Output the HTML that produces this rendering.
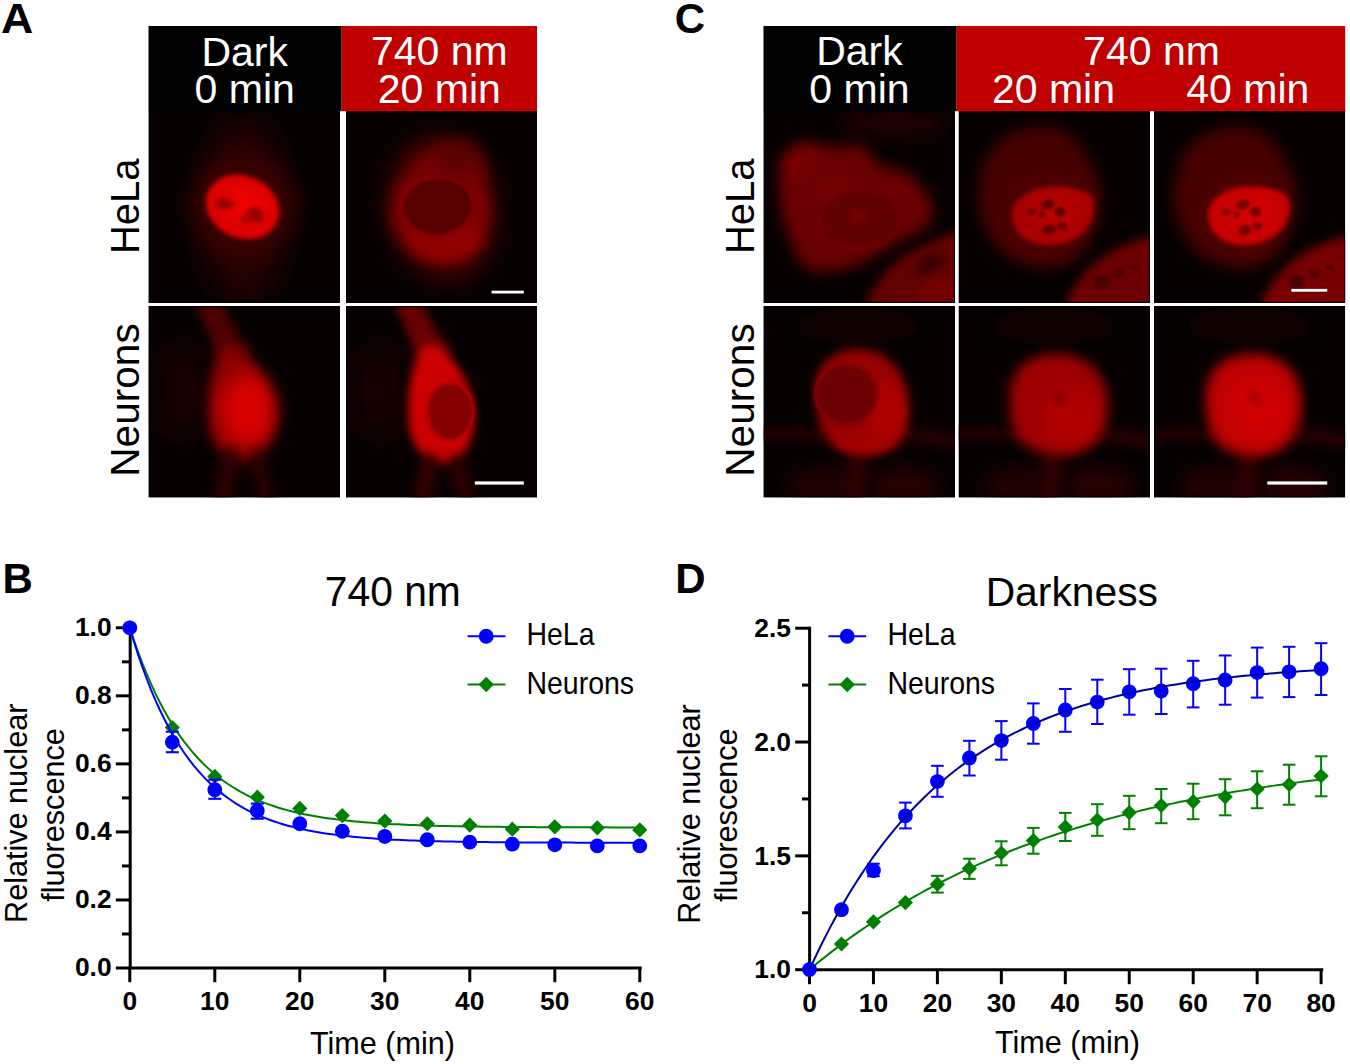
<!DOCTYPE html>
<html><head><meta charset="utf-8"><title>Figure</title>
<style>
html,body{margin:0;padding:0;background:#fff;}
body{width:1350px;height:1064px;overflow:hidden;font-family:"Liberation Sans",sans-serif;}
svg{display:block;}
text{font-family:"Liberation Sans",sans-serif;}
</style></head><body>
<svg width="1350" height="1064" viewBox="0 0 1350 1064">
<rect width="1350" height="1064" fill="#fff"/>
<text transform="translate(0.9,32.7) scale(1.065,1.02)" text-anchor="start" font-size="42" font-weight="bold" fill="#000">A</text>
<text transform="translate(2.6,593.4) scale(1.0,1.02)" text-anchor="start" font-size="42" font-weight="bold" fill="#000">B</text>
<text transform="translate(674.8,32.6) scale(1.0,1.02)" text-anchor="start" font-size="42" font-weight="bold" fill="#000">C</text>
<text transform="translate(675.3,593.4) scale(1.0,1.02)" text-anchor="start" font-size="42" font-weight="bold" fill="#000">D</text>
<defs>
<filter id="b1" filterUnits="userSpaceOnUse" x="-300" y="-300" width="900" height="900"><feGaussianBlur stdDeviation="1"/></filter>
<filter id="b1_5" filterUnits="userSpaceOnUse" x="-300" y="-300" width="900" height="900"><feGaussianBlur stdDeviation="1.5"/></filter>
<filter id="b2" filterUnits="userSpaceOnUse" x="-300" y="-300" width="900" height="900"><feGaussianBlur stdDeviation="2"/></filter>
<filter id="b2_5" filterUnits="userSpaceOnUse" x="-300" y="-300" width="900" height="900"><feGaussianBlur stdDeviation="2.5"/></filter>
<filter id="b3" filterUnits="userSpaceOnUse" x="-300" y="-300" width="900" height="900"><feGaussianBlur stdDeviation="3"/></filter>
<filter id="b4" filterUnits="userSpaceOnUse" x="-300" y="-300" width="900" height="900"><feGaussianBlur stdDeviation="4"/></filter>
<filter id="b5" filterUnits="userSpaceOnUse" x="-300" y="-300" width="900" height="900"><feGaussianBlur stdDeviation="5"/></filter>
<filter id="b6" filterUnits="userSpaceOnUse" x="-300" y="-300" width="900" height="900"><feGaussianBlur stdDeviation="6"/></filter>
<filter id="b7" filterUnits="userSpaceOnUse" x="-300" y="-300" width="900" height="900"><feGaussianBlur stdDeviation="7"/></filter>
<filter id="b8" filterUnits="userSpaceOnUse" x="-300" y="-300" width="900" height="900"><feGaussianBlur stdDeviation="8"/></filter>
<filter id="b9" filterUnits="userSpaceOnUse" x="-300" y="-300" width="900" height="900"><feGaussianBlur stdDeviation="9"/></filter>
<filter id="b10" filterUnits="userSpaceOnUse" x="-300" y="-300" width="900" height="900"><feGaussianBlur stdDeviation="10"/></filter>
<filter id="b12" filterUnits="userSpaceOnUse" x="-300" y="-300" width="900" height="900"><feGaussianBlur stdDeviation="12"/></filter>
<filter id="b14" filterUnits="userSpaceOnUse" x="-300" y="-300" width="900" height="900"><feGaussianBlur stdDeviation="14"/></filter>
<filter id="b15" filterUnits="userSpaceOnUse" x="-300" y="-300" width="900" height="900"><feGaussianBlur stdDeviation="15"/></filter>
<filter id="b16" filterUnits="userSpaceOnUse" x="-300" y="-300" width="900" height="900"><feGaussianBlur stdDeviation="16"/></filter>
<filter id="b20" filterUnits="userSpaceOnUse" x="-300" y="-300" width="900" height="900"><feGaussianBlur stdDeviation="20"/></filter>
<clipPath id="cpA11"><rect x="148.5" y="111.0" width="191.50" height="192.00"/></clipPath>
<clipPath id="cpA12"><rect x="346.0" y="111.0" width="191.00" height="192.00"/></clipPath>
<clipPath id="cpA21"><rect x="148.5" y="306.0" width="191.50" height="191.50"/></clipPath>
<clipPath id="cpA22"><rect x="346.0" y="306.0" width="191.00" height="191.50"/></clipPath>
<clipPath id="cpC11"><rect x="763.5" y="111.0" width="191.50" height="192.00"/></clipPath>
<clipPath id="cpC12"><rect x="958.6" y="111.0" width="191.40" height="192.00"/></clipPath>
<clipPath id="cpC13"><rect x="1154.0" y="111.0" width="191.20" height="192.00"/></clipPath>
<clipPath id="cpC21"><rect x="763.5" y="306.0" width="191.50" height="191.50"/></clipPath>
<clipPath id="cpC22"><rect x="958.6" y="306.0" width="191.40" height="191.50"/></clipPath>
<clipPath id="cpC23"><rect x="1154.0" y="306.0" width="191.20" height="191.50"/></clipPath>
</defs>
<g clip-path="url(#cpA11)">
<rect x="148.5" y="111.0" width="191.50" height="192.00" fill="#070000"/>
<g transform="translate(148.5,111.0)">
<ellipse cx="95" cy="100" rx="42" ry="92" fill="rgb(38,0,0)" filter="url(#b14)"/>
<ellipse cx="95" cy="95" rx="52" ry="52" fill="rgb(55,0,0)" filter="url(#b10)"/>
<ellipse cx="94" cy="96" rx="38" ry="31" fill="rgb(218,0,0)" filter="url(#b2)" transform="rotate(25 94 96)"/>
<ellipse cx="97" cy="95" rx="22" ry="18" fill="rgb(238,0,0)" filter="url(#b6)"/>
<ellipse cx="76" cy="93" rx="10" ry="5" fill="rgb(150,0,0)" filter="url(#b2)" transform="rotate(5 76 93)"/>
<ellipse cx="107" cy="104" rx="9" ry="7" fill="rgb(150,0,0)" filter="url(#b2)" transform="rotate(40 107 104)"/>
<ellipse cx="98" cy="108" rx="6" ry="5" fill="rgb(170,0,0)" filter="url(#b2)"/>
</g>
<rect x="149.0" y="111.5" width="190.50" height="191.00" fill="none" stroke="#000" stroke-width="1"/>
</g>
<g clip-path="url(#cpA12)">
<rect x="346.0" y="111.0" width="191.00" height="192.00" fill="#070000"/>
<g transform="translate(346.0,111.0)">
<ellipse cx="96" cy="98" rx="52" ry="72" fill="rgb(70,0,0)" filter="url(#b12)" transform="rotate(-12 96 98)"/>
<ellipse cx="95" cy="100" rx="50" ry="50" fill="rgb(125,0,0)" filter="url(#b7)"/>
<ellipse cx="104" cy="62" rx="36" ry="26" fill="rgb(118,0,0)" filter="url(#b9)"/>
<ellipse cx="112" cy="45" rx="22" ry="16" fill="rgb(90,0,0)" filter="url(#b8)"/>
<ellipse cx="100" cy="128" rx="36" ry="22" fill="rgb(142,0,0)" filter="url(#b6)"/>
<ellipse cx="91.6" cy="95.5" rx="35.5" ry="29" fill="rgb(88,0,0)" filter="url(#b1_5)" transform="rotate(-4 91.6 95.5)"/>
<ellipse cx="91.6" cy="95.5" rx="35.5" ry="29" fill="none" stroke="rgb(135,0,0)" stroke-width="2" filter="url(#b1)" transform="rotate(-4 91.6 95.5)"/>
</g>
<rect x="346.5" y="111.5" width="190.00" height="191.00" fill="none" stroke="#000" stroke-width="1"/>
</g>
<g clip-path="url(#cpA21)">
<rect x="148.5" y="306.0" width="191.50" height="191.50" fill="#070000"/>
<g transform="translate(148.5,306.0)">
<ellipse cx="35" cy="85" rx="30" ry="50" fill="rgb(20,0,0)" filter="url(#b16)"/>
<path d="M46,-5 L74,-5 C80,18 92,32 104,48 L70,60 C64,35 55,15 46,-5 Z" fill="rgb(80,0,0)" filter="url(#b5)"/>
<path d="M78,40 C60,60 58,100 62,125 C66,145 85,158 100,155 C120,150 128,125 126,105 C124,80 110,60 95,45 Z" fill="rgb(140,0,0)" filter="url(#b6)"/>
<ellipse cx="99" cy="104" rx="27" ry="36" fill="rgb(215,0,0)" filter="url(#b9)"/>
<path d="M82,150 C80,170 76,185 72,200" fill="none" stroke="rgb(50,0,0)" stroke-width="16" stroke-linecap="round" filter="url(#b6)"/>
<path d="M108,150 C112,170 116,185 120,200" fill="none" stroke="rgb(45,0,0)" stroke-width="14" stroke-linecap="round" filter="url(#b6)"/>
</g>
<rect x="149.0" y="306.5" width="190.50" height="190.50" fill="none" stroke="#000" stroke-width="1"/>
</g>
<g clip-path="url(#cpA22)">
<rect x="346.0" y="306.0" width="191.00" height="191.50" fill="#070000"/>
<g transform="translate(346.0,306.0)">
<ellipse cx="35" cy="85" rx="30" ry="50" fill="rgb(20,0,0)" filter="url(#b16)"/>
<path d="M48,-5 L76,-5 C83,18 94,30 106,46 L72,56 C65,35 57,15 48,-5 Z" fill="rgb(105,0,0)" filter="url(#b5)"/>
<path d="M80,38 C62,60 60,100 64,125 C68,148 88,160 104,157 C122,152 130,125 128,105 C126,80 112,58 96,42 Z" fill="rgb(205,0,0)" filter="url(#b4)"/>
<ellipse cx="104" cy="105.5" rx="23" ry="29" fill="rgb(130,0,0)" filter="url(#b2)"/>
<ellipse cx="104" cy="105.5" rx="23" ry="29" fill="none" stroke="rgb(190,0,0)" stroke-width="2" filter="url(#b1)"/>
<path d="M84,155 C82,170 78,185 74,200" fill="none" stroke="rgb(55,0,0)" stroke-width="16" stroke-linecap="round" filter="url(#b6)"/>
<path d="M110,155 C114,170 118,185 122,200" fill="none" stroke="rgb(50,0,0)" stroke-width="14" stroke-linecap="round" filter="url(#b6)"/>
</g>
<rect x="346.5" y="306.5" width="190.00" height="190.50" fill="none" stroke="#000" stroke-width="1"/>
</g>
<g clip-path="url(#cpC11)">
<rect x="763.5" y="111.0" width="191.50" height="192.00" fill="#070000"/>
<g transform="translate(763.5,111.0)">
<ellipse cx="130" cy="12" rx="55" ry="16" fill="rgb(28,0,0)" filter="url(#b8)"/>
<path d="M27,42 C32,34 38,31 42,31 C55,33 65,36 73,36 C85,35 92,33 98,34 C104,38 107,44 109,47 C112,51 114,53 116,54 C125,57 133,58 141,60 C150,68 158,75 163,82 C167,90 169,96 169,102 C168,108 166,113 163,116 C155,121 148,124 141,127 C133,132 125,136 118,140 C105,148 93,154 82,158 C72,160 62,161 54,160 C46,158 40,155 36,151 C32,143 29,135 27,127 C22,118 19,110 18,100 C16,90 16,82 16,73 C17,65 19,58 22,51 Z" fill="rgb(106,0,0)" filter="url(#b7)"/>
<ellipse cx="36" cy="54" rx="18" ry="15" fill="rgb(122,0,0)" filter="url(#b8)"/>
<ellipse cx="73" cy="82" rx="22" ry="16" fill="rgb(116,0,0)" filter="url(#b8)"/>
<ellipse cx="96" cy="108" rx="40" ry="30" fill="rgb(96,0,0)" filter="url(#b2)" transform="rotate(-3 96 108)"/>
<ellipse cx="96" cy="108" rx="40" ry="30" fill="none" stroke="rgb(114,0,0)" stroke-width="2.5" filter="url(#b1_5)" transform="rotate(-3 96 108)"/>
<ellipse cx="94" cy="105" rx="8" ry="8" fill="rgb(118,0,0)" filter="url(#b4)"/>
<path d="M100,200 C106,180 120,160 140,145 C160,133 180,125 200,118 L200,200 Z" fill="rgb(100,0,0)" filter="url(#b5)"/>
<ellipse cx="166" cy="154" rx="16" ry="9" fill="rgb(55,0,0)" filter="url(#b4)" transform="rotate(-30 166 154)"/>
<ellipse cx="175" cy="180" rx="20" ry="15" fill="rgb(118,0,0)" filter="url(#b6)"/>
</g>
<rect x="764.0" y="111.5" width="190.50" height="191.00" fill="none" stroke="#000" stroke-width="1"/>
</g>
<g clip-path="url(#cpC12)">
<rect x="958.6" y="111.0" width="191.40" height="192.00" fill="#070000"/>
<g transform="translate(958.6,111.0)">
<path d="M20,78 C24,48 36,28 54,22 C68,17 80,15 91,16 C103,18 112,23 119,31 C127,42 133,52 137,63 C140,72 141,80 141,88 C139,106 133,124 124,140 C114,150 103,156 91,157 C78,157 62,153 51,147 C40,139 32,129 27,118 C22,105 19,92 20,78 Z" fill="rgb(70,0,0)" filter="url(#b7)"/>
<ellipse cx="90" cy="100" rx="45" ry="40" fill="rgb(80,0,0)" filter="url(#b10)"/>
<path d="M55,110 C50,95 62,85 75,79 C95,72 120,76 132,84 C138,92 136,108 128,118 C118,130 100,136 85,134 C68,132 56,122 55,110 Z" fill="rgb(168,0,0)" filter="url(#b2)"/>
<ellipse cx="98" cy="100" rx="22" ry="16" fill="rgb(182,0,0)" filter="url(#b6)"/>
<ellipse cx="72.6" cy="100.7" rx="3.5" ry="3" fill="rgb(100,0,0)" filter="url(#b1_5)"/>
<ellipse cx="82.6" cy="103.4" rx="3" ry="3" fill="rgb(100,0,0)" filter="url(#b1_5)"/>
<ellipse cx="89" cy="93.5" rx="7" ry="4.5" fill="rgb(100,0,0)" filter="url(#b1_5)" transform="rotate(-20 89 93.5)"/>
<ellipse cx="101.6" cy="100.7" rx="5.5" ry="5" fill="rgb(100,0,0)" filter="url(#b1_5)"/>
<ellipse cx="90.7" cy="119" rx="6.5" ry="5" fill="rgb(100,0,0)" filter="url(#b1_5)" transform="rotate(-15 90.7 119)"/>
<ellipse cx="103.4" cy="115" rx="4.5" ry="3.5" fill="rgb(100,0,0)" filter="url(#b1_5)"/>
<path d="M105,200 C110,180 125,160 145,145 C165,133 180,128 200,124 L200,200 Z" fill="rgb(108,0,0)" filter="url(#b5)"/>
<ellipse cx="143" cy="171" rx="8" ry="7" fill="rgb(70,0,0)" filter="url(#b2)"/>
<ellipse cx="160" cy="163" rx="6" ry="4" fill="rgb(75,0,0)" filter="url(#b2)" transform="rotate(-30 160 163)"/>
<ellipse cx="176" cy="156" rx="4" ry="3" fill="rgb(80,0,0)" filter="url(#b1)"/>
</g>
<rect x="959.1" y="111.5" width="190.40" height="191.00" fill="none" stroke="#000" stroke-width="1"/>
</g>
<g clip-path="url(#cpC13)">
<rect x="1154.0" y="111.0" width="191.20" height="192.00" fill="#070000"/>
<g transform="translate(1154.0,111.0)">
<path d="M20,78 C24,48 36,28 54,22 C68,17 80,15 91,16 C103,18 112,23 119,31 C127,42 133,52 137,63 C140,72 141,80 141,88 C139,106 133,124 124,140 C114,150 103,156 91,157 C78,157 62,153 51,147 C40,139 32,129 27,118 C22,105 19,92 20,78 Z" fill="rgb(70,0,0)" filter="url(#b7)"/>
<ellipse cx="90" cy="100" rx="45" ry="40" fill="rgb(80,0,0)" filter="url(#b10)"/>
<path d="M55,110 C50,95 62,85 75,79 C95,72 120,76 132,84 C138,92 136,108 128,118 C118,130 100,136 85,134 C68,132 56,122 55,110 Z" fill="rgb(198,0,0)" filter="url(#b2)"/>
<ellipse cx="98" cy="100" rx="22" ry="16" fill="rgb(212,0,0)" filter="url(#b6)"/>
<ellipse cx="72.6" cy="100.7" rx="3.5" ry="3" fill="rgb(118,0,0)" filter="url(#b1_5)"/>
<ellipse cx="82.6" cy="103.4" rx="3" ry="3" fill="rgb(118,0,0)" filter="url(#b1_5)"/>
<ellipse cx="89" cy="93.5" rx="7" ry="4.5" fill="rgb(118,0,0)" filter="url(#b1_5)" transform="rotate(-20 89 93.5)"/>
<ellipse cx="101.6" cy="100.7" rx="5.5" ry="5" fill="rgb(118,0,0)" filter="url(#b1_5)"/>
<ellipse cx="90.7" cy="119" rx="6.5" ry="5" fill="rgb(118,0,0)" filter="url(#b1_5)" transform="rotate(-15 90.7 119)"/>
<ellipse cx="103.4" cy="115" rx="4.5" ry="3.5" fill="rgb(118,0,0)" filter="url(#b1_5)"/>
<path d="M105,200 C110,180 125,160 145,145 C165,133 180,128 200,124 L200,200 Z" fill="rgb(120,0,0)" filter="url(#b5)"/>
<ellipse cx="143" cy="171" rx="8" ry="7" fill="rgb(70,0,0)" filter="url(#b2)"/>
<ellipse cx="160" cy="163" rx="6" ry="4" fill="rgb(75,0,0)" filter="url(#b2)" transform="rotate(-30 160 163)"/>
<ellipse cx="176" cy="156" rx="4" ry="3" fill="rgb(80,0,0)" filter="url(#b1)"/>
</g>
<rect x="1154.5" y="111.5" width="190.20" height="191.00" fill="none" stroke="#000" stroke-width="1"/>
</g>
<g clip-path="url(#cpC21)">
<rect x="763.5" y="306.0" width="191.50" height="191.50" fill="#070000"/>
<g transform="translate(763.5,306.0)">
<ellipse cx="95" cy="20" rx="70" ry="18" fill="rgb(11,0,0)" filter="url(#b14)"/>
<path d="M-5,128 C30,126 45,128 60,130" fill="none" stroke="rgb(38,0,0)" stroke-width="10" stroke-linecap="round" filter="url(#b5)"/>
<path d="M140,130 C160,128 180,132 200,138" fill="none" stroke="rgb(40,0,0)" stroke-width="14" stroke-linecap="round" filter="url(#b6)"/>
<ellipse cx="60" cy="180" rx="35" ry="18" fill="rgb(35,0,0)" filter="url(#b8)"/>
<ellipse cx="140" cy="180" rx="35" ry="18" fill="rgb(38,0,0)" filter="url(#b8)"/>
<path d="M95,150 L90,200" fill="none" stroke="rgb(45,0,0)" stroke-width="20" stroke-linecap="round" filter="url(#b6)"/>
<path d="M52,88 C50,62 65,46 90,43 C115,42 135,55 142,80 C148,105 146,130 130,143 C112,152 88,152 72,142 C58,132 53,110 52,88 Z" fill="rgb(150,0,0)" filter="url(#b5)"/>
<ellipse cx="122" cy="105" rx="18" ry="30" fill="rgb(175,0,0)" filter="url(#b6)"/>
<ellipse cx="100" cy="135" rx="25" ry="10" fill="rgb(165,0,0)" filter="url(#b5)"/>
<ellipse cx="83" cy="88.5" rx="31" ry="30" fill="rgb(108,0,0)" filter="url(#b2)"/>
<ellipse cx="83" cy="88.5" rx="31" ry="30" fill="none" stroke="rgb(140,0,0)" stroke-width="2" filter="url(#b1)"/>
</g>
<rect x="764.0" y="306.5" width="190.50" height="190.50" fill="none" stroke="#000" stroke-width="1"/>
</g>
<g clip-path="url(#cpC22)">
<rect x="958.6" y="306.0" width="191.40" height="191.50" fill="#070000"/>
<g transform="translate(958.6,306.0)">
<ellipse cx="95" cy="20" rx="70" ry="18" fill="rgb(11,0,0)" filter="url(#b14)"/>
<path d="M-5,128 C30,126 45,128 60,130" fill="none" stroke="rgb(38,0,0)" stroke-width="10" stroke-linecap="round" filter="url(#b5)"/>
<path d="M140,130 C160,128 180,132 200,138" fill="none" stroke="rgb(40,0,0)" stroke-width="14" stroke-linecap="round" filter="url(#b6)"/>
<ellipse cx="60" cy="180" rx="35" ry="18" fill="rgb(35,0,0)" filter="url(#b8)"/>
<ellipse cx="140" cy="180" rx="35" ry="18" fill="rgb(38,0,0)" filter="url(#b8)"/>
<path d="M95,150 L90,200" fill="none" stroke="rgb(45,0,0)" stroke-width="20" stroke-linecap="round" filter="url(#b6)"/>
<path d="M51,95 C50,65 68,48 98,48 C125,48 146,64 149,92 C151,120 140,140 118,147 C95,152 72,147 60,133 C53,122 51,108 51,95 Z" fill="rgb(158,0,0)" filter="url(#b6)"/>
<ellipse cx="112" cy="112" rx="26" ry="28" fill="rgb(178,0,0)" filter="url(#b8)"/>
<ellipse cx="102" cy="93" rx="6" ry="7" fill="rgb(130,0,0)" filter="url(#b3)"/>
</g>
<rect x="959.1" y="306.5" width="190.40" height="190.50" fill="none" stroke="#000" stroke-width="1"/>
</g>
<g clip-path="url(#cpC23)">
<rect x="1154.0" y="306.0" width="191.20" height="191.50" fill="#070000"/>
<g transform="translate(1154.0,306.0)">
<ellipse cx="95" cy="20" rx="70" ry="18" fill="rgb(11,0,0)" filter="url(#b14)"/>
<path d="M-5,128 C30,126 45,128 60,130" fill="none" stroke="rgb(38,0,0)" stroke-width="10" stroke-linecap="round" filter="url(#b5)"/>
<path d="M140,130 C160,128 180,132 200,138" fill="none" stroke="rgb(40,0,0)" stroke-width="14" stroke-linecap="round" filter="url(#b6)"/>
<ellipse cx="60" cy="180" rx="35" ry="18" fill="rgb(35,0,0)" filter="url(#b8)"/>
<ellipse cx="140" cy="180" rx="35" ry="18" fill="rgb(38,0,0)" filter="url(#b8)"/>
<path d="M95,150 L90,200" fill="none" stroke="rgb(45,0,0)" stroke-width="20" stroke-linecap="round" filter="url(#b6)"/>
<path d="M52,95 C51,65 69,48 99,48 C126,48 145,64 147,92 C149,120 139,140 117,148 C95,153 72,148 61,134 C54,122 52,108 52,95 Z" fill="rgb(190,0,0)" filter="url(#b6)"/>
<ellipse cx="104" cy="104" rx="28" ry="30" fill="rgb(208,0,0)" filter="url(#b8)"/>
<ellipse cx="100" cy="92" rx="6" ry="7" fill="rgb(165,0,0)" filter="url(#b3)"/>
</g>
<rect x="1154.5" y="306.5" width="190.20" height="190.50" fill="none" stroke="#000" stroke-width="1"/>
</g>
<rect x="491.6" y="290.7" width="32.2" height="2.8" fill="#fff"/>
<rect x="474.8" y="481.4" width="49" height="3.2" fill="#fff"/>
<rect x="1291.3" y="288.9" width="35.9" height="2.8" fill="#fff"/>
<rect x="1267.3" y="481.4" width="59.9" height="3.2" fill="#fff"/>
<rect x="148.5" y="26" width="193.2" height="85.2" fill="#000"/>
<rect x="341.6" y="26" width="195.4" height="85.2" fill="#C00000"/>
<text x="244.75" y="65.5" text-anchor="middle" font-size="41" fill="#fff">Dark</text>
<text x="244.75" y="103.3" text-anchor="middle" font-size="41" fill="#fff">0 min</text>
<text x="439.3" y="65.3" text-anchor="middle" font-size="41" fill="#fff">740 nm</text>
<text x="439.3" y="102.9" text-anchor="middle" font-size="41" fill="#fff">20 min</text>
<rect x="763.5" y="26" width="193.2" height="85.2" fill="#000"/>
<rect x="956.6" y="26" width="388.6" height="85.2" fill="#C00000"/>
<text x="859.5" y="65.0" text-anchor="middle" font-size="41" fill="#fff">Dark</text>
<text x="859.5" y="102.8" text-anchor="middle" font-size="41" fill="#fff">0 min</text>
<text x="1151.5" y="65.2" text-anchor="middle" font-size="41" fill="#fff">740 nm</text>
<text x="1053.5" y="103.0" text-anchor="middle" font-size="41" fill="#fff">20 min</text>
<text x="1247.8" y="103.0" text-anchor="middle" font-size="41" fill="#fff">40 min</text>
<text transform="translate(138.6,206.3) rotate(-90) scale(1.0,1.02)" text-anchor="middle" font-size="40.0" fill="#000">HeLa</text>
<text transform="translate(139.3,400.0) rotate(-90)" text-anchor="middle" font-size="40.6" fill="#000">Neurons</text>
<text transform="translate(753.6,206.3) rotate(-90) scale(1.0,1.02)" text-anchor="middle" font-size="40.0" fill="#000">HeLa</text>
<text transform="translate(754.3,400.0) rotate(-90)" text-anchor="middle" font-size="40.6" fill="#000">Neurons</text>
<g stroke="#000" stroke-width="3" fill="none">
<line x1="130.2" y1="626.3" x2="130.2" y2="969.5"/>
<line x1="128.7" y1="968" x2="641.7" y2="968"/>
<line x1="115.8" y1="968.00" x2="130.2" y2="968.00"/>
<line x1="122" y1="933.98" x2="130.2" y2="933.98"/>
<line x1="115.8" y1="899.96" x2="130.2" y2="899.96"/>
<line x1="122" y1="865.94" x2="130.2" y2="865.94"/>
<line x1="115.8" y1="831.92" x2="130.2" y2="831.92"/>
<line x1="122" y1="797.90" x2="130.2" y2="797.90"/>
<line x1="115.8" y1="763.88" x2="130.2" y2="763.88"/>
<line x1="122" y1="729.86" x2="130.2" y2="729.86"/>
<line x1="115.8" y1="695.84" x2="130.2" y2="695.84"/>
<line x1="122" y1="661.82" x2="130.2" y2="661.82"/>
<line x1="115.8" y1="627.80" x2="130.2" y2="627.80"/>
<line x1="129.80" y1="968" x2="129.80" y2="982.2"/>
<line x1="214.80" y1="968" x2="214.80" y2="982.2"/>
<line x1="299.80" y1="968" x2="299.80" y2="982.2"/>
<line x1="384.80" y1="968" x2="384.80" y2="982.2"/>
<line x1="469.80" y1="968" x2="469.80" y2="982.2"/>
<line x1="554.80" y1="968" x2="554.80" y2="982.2"/>
<line x1="639.80" y1="968" x2="639.80" y2="982.2"/>
</g>
<text x="111.6" y="976.30" text-anchor="end" font-size="26.4" font-weight="bold" fill="#000">0.0</text>
<text x="111.6" y="908.26" text-anchor="end" font-size="26.4" font-weight="bold" fill="#000">0.2</text>
<text x="111.6" y="840.22" text-anchor="end" font-size="26.4" font-weight="bold" fill="#000">0.4</text>
<text x="111.6" y="772.18" text-anchor="end" font-size="26.4" font-weight="bold" fill="#000">0.6</text>
<text x="111.6" y="704.14" text-anchor="end" font-size="26.4" font-weight="bold" fill="#000">0.8</text>
<text x="111.6" y="636.10" text-anchor="end" font-size="26.4" font-weight="bold" fill="#000">1.0</text>
<text x="129.80" y="1010.3" text-anchor="middle" font-size="26.4" font-weight="bold" fill="#000">0</text>
<text x="214.80" y="1010.3" text-anchor="middle" font-size="26.4" font-weight="bold" fill="#000">10</text>
<text x="299.80" y="1010.3" text-anchor="middle" font-size="26.4" font-weight="bold" fill="#000">20</text>
<text x="384.80" y="1010.3" text-anchor="middle" font-size="26.4" font-weight="bold" fill="#000">30</text>
<text x="469.80" y="1010.3" text-anchor="middle" font-size="26.4" font-weight="bold" fill="#000">40</text>
<text x="554.80" y="1010.3" text-anchor="middle" font-size="26.4" font-weight="bold" fill="#000">50</text>
<text x="639.80" y="1010.3" text-anchor="middle" font-size="26.4" font-weight="bold" fill="#000">60</text>
<text transform="translate(392.8,605.9) scale(1.0,1.03)" text-anchor="middle" font-size="40.8" fill="#000">740 nm</text>
<text transform="translate(382.5,1053.5) scale(1.0,1.03)" text-anchor="middle" font-size="30.6" fill="#000">Time (min)</text>
<text transform="translate(27.0,813.3) rotate(-90) scale(1.0,1.03)" text-anchor="middle" font-size="30.6" fill="#000">Relative nuclear</text>
<text transform="translate(63.5,815.0) rotate(-90) scale(1.0,1.03)" text-anchor="middle" font-size="30.6" fill="#000">fluorescence</text>
<polyline points="129.80,627.80 134.05,640.55 138.30,652.49 142.55,663.67 146.80,674.14 151.05,683.93 155.30,693.10 159.55,701.68 163.80,709.72 168.05,717.24 172.30,724.28 176.55,730.88 180.80,737.05 185.05,742.82 189.30,748.23 193.55,753.29 197.80,758.03 202.05,762.47 206.30,766.62 210.55,770.51 214.80,774.15 219.05,777.56 223.30,780.75 227.55,783.73 231.80,786.53 236.05,789.15 240.30,791.60 244.55,793.89 248.80,796.03 253.05,798.04 257.30,799.93 261.55,801.69 265.80,803.33 270.05,804.88 274.30,806.32 278.55,807.68 282.80,808.94 287.05,810.13 291.30,811.24 295.55,812.27 299.80,813.25 304.05,814.16 308.30,815.01 312.55,815.81 316.80,816.55 321.05,817.25 325.30,817.91 329.55,818.52 333.80,819.09 338.05,819.63 342.30,820.13 346.55,820.60 350.80,821.04 355.05,821.45 359.30,821.84 363.55,822.20 367.80,822.54 372.05,822.86 376.30,823.15 380.55,823.43 384.80,823.69 389.05,823.93 393.30,824.16 397.55,824.37 401.80,824.57 406.05,824.76 410.30,824.94 414.55,825.10 418.80,825.25 423.05,825.40 427.30,825.53 431.55,825.66 435.80,825.77 440.05,825.88 444.30,825.99 448.55,826.08 452.80,826.17 457.05,826.26 461.30,826.34 465.55,826.41 469.80,826.48 474.05,826.55 478.30,826.61 482.55,826.66 486.80,826.72 491.05,826.77 495.30,826.81 499.55,826.86 503.80,826.90 508.05,826.94 512.30,826.97 516.55,827.01 520.80,827.04 525.05,827.07 529.30,827.09 533.55,827.12 537.80,827.14 542.05,827.17 546.30,827.19 550.55,827.21 554.80,827.23 559.05,827.24 563.30,827.26 567.55,827.27 571.80,827.29 576.05,827.30 580.30,827.31 584.55,827.33 588.80,827.34 593.05,827.35 597.30,827.36 601.55,827.37 605.80,827.37 610.05,827.38 614.30,827.39 618.55,827.40 622.80,827.40 627.05,827.41 631.30,827.41 635.55,827.42 639.80,827.42" fill="none" stroke="#008000" stroke-width="2.0"/>
<path d="M129.80,620.20 L137.40,627.80 L129.80,635.40 L122.20,627.80Z" fill="#008000"/>
<path d="M172.30,719.88 L179.90,727.48 L172.30,735.08 L164.70,727.48Z" fill="#008000"/>
<path d="M214.80,768.87 L222.40,776.47 L214.80,784.07 L207.20,776.47Z" fill="#008000"/>
<path d="M257.30,789.62 L264.90,797.22 L257.30,804.82 L249.70,797.22Z" fill="#008000"/>
<path d="M299.80,800.85 L307.40,808.45 L299.80,816.05 L292.20,808.45Z" fill="#008000"/>
<path d="M342.30,807.99 L349.90,815.59 L342.30,823.19 L334.70,815.59Z" fill="#008000"/>
<path d="M384.80,813.43 L392.40,821.03 L384.80,828.63 L377.20,821.03Z" fill="#008000"/>
<path d="M427.30,816.16 L434.90,823.76 L427.30,831.36 L419.70,823.76Z" fill="#008000"/>
<path d="M469.80,817.52 L477.40,825.12 L469.80,832.72 L462.20,825.12Z" fill="#008000"/>
<path d="M512.30,821.60 L519.90,829.20 L512.30,836.80 L504.70,829.20Z" fill="#008000"/>
<path d="M554.80,819.22 L562.40,826.82 L554.80,834.42 L547.20,826.82Z" fill="#008000"/>
<path d="M597.30,820.24 L604.90,827.84 L597.30,835.44 L589.70,827.84Z" fill="#008000"/>
<path d="M639.80,822.28 L647.40,829.88 L639.80,837.48 L632.20,829.88Z" fill="#008000"/>
<polyline points="129.80,627.80 134.05,641.93 138.30,655.14 142.55,667.48 146.80,679.00 151.05,689.77 155.30,699.83 159.55,709.23 163.80,718.01 168.05,726.22 172.30,733.88 176.55,741.04 180.80,747.73 185.05,753.98 189.30,759.82 193.55,765.28 197.80,770.37 202.05,775.13 206.30,779.58 210.55,783.74 214.80,787.62 219.05,791.25 223.30,794.64 227.55,797.81 231.80,800.76 236.05,803.53 240.30,806.11 244.55,808.52 248.80,810.78 253.05,812.88 257.30,814.85 261.55,816.69 265.80,818.40 270.05,820.01 274.30,821.51 278.55,822.91 282.80,824.22 287.05,825.44 291.30,826.58 295.55,827.65 299.80,828.64 304.05,829.57 308.30,830.44 312.55,831.26 316.80,832.02 321.05,832.73 325.30,833.39 329.55,834.01 333.80,834.59 338.05,835.13 342.30,835.63 346.55,836.10 350.80,836.54 355.05,836.96 359.30,837.34 363.55,837.70 367.80,838.03 372.05,838.35 376.30,838.64 380.55,838.92 384.80,839.17 389.05,839.41 393.30,839.63 397.55,839.84 401.80,840.04 406.05,840.22 410.30,840.39 414.55,840.55 418.80,840.70 423.05,840.84 427.30,840.96 431.55,841.09 435.80,841.20 440.05,841.30 444.30,841.40 448.55,841.50 452.80,841.58 457.05,841.66 461.30,841.74 465.55,841.81 469.80,841.87 474.05,841.93 478.30,841.99 482.55,842.05 486.80,842.10 491.05,842.14 495.30,842.19 499.55,842.23 503.80,842.26 508.05,842.30 512.30,842.33 516.55,842.36 520.80,842.39 525.05,842.42 529.30,842.45 533.55,842.47 537.80,842.49 542.05,842.51 546.30,842.53 550.55,842.55 554.80,842.57 559.05,842.58 563.30,842.60 567.55,842.61 571.80,842.62 576.05,842.64 580.30,842.65 584.55,842.66 588.80,842.67 593.05,842.68 597.30,842.69 601.55,842.69 605.80,842.70 610.05,842.71 614.30,842.71 618.55,842.72 622.80,842.73 627.05,842.73 631.30,842.74 635.55,842.74 639.80,842.74" fill="none" stroke="#0000FF" stroke-width="2.0"/>
<g stroke="#0000FF" stroke-width="2.1">
<line x1="172.30" y1="731.7" x2="172.30" y2="752.2"/>
<line x1="165.80" y1="731.7" x2="178.80" y2="731.7"/>
<line x1="165.80" y1="752.2" x2="178.80" y2="752.2"/>
<line x1="214.80" y1="779.7" x2="214.80" y2="798.8"/>
<line x1="208.30" y1="779.7" x2="221.30" y2="779.7"/>
<line x1="208.30" y1="798.8" x2="221.30" y2="798.8"/>
<line x1="257.30" y1="803.6" x2="257.30" y2="818.7"/>
<line x1="250.80" y1="803.6" x2="263.80" y2="803.6"/>
<line x1="250.80" y1="818.7" x2="263.80" y2="818.7"/>
</g>
<circle cx="129.80" cy="627.80" r="7.4" fill="#0000FF"/>
<circle cx="172.30" cy="742.11" r="7.4" fill="#0000FF"/>
<circle cx="214.80" cy="789.74" r="7.4" fill="#0000FF"/>
<circle cx="257.30" cy="810.83" r="7.4" fill="#0000FF"/>
<circle cx="299.80" cy="823.76" r="7.4" fill="#0000FF"/>
<circle cx="342.30" cy="831.24" r="7.4" fill="#0000FF"/>
<circle cx="384.80" cy="836.51" r="7.4" fill="#0000FF"/>
<circle cx="427.30" cy="839.74" r="7.4" fill="#0000FF"/>
<circle cx="469.80" cy="842.13" r="7.4" fill="#0000FF"/>
<circle cx="512.30" cy="844.17" r="7.4" fill="#0000FF"/>
<circle cx="554.80" cy="844.85" r="7.4" fill="#0000FF"/>
<circle cx="597.30" cy="845.87" r="7.4" fill="#0000FF"/>
<circle cx="639.80" cy="845.87" r="7.4" fill="#0000FF"/>
<line x1="467.6" y1="636.3" x2="505.4" y2="636.3" stroke="#0000FF" stroke-width="2.0"/>
<circle cx="486.2" cy="636.3" r="7.5" fill="#0000FF"/>
<line x1="467.6" y1="684.5" x2="505.4" y2="684.5" stroke="#008000" stroke-width="2.0"/>
<path d="M486.20,676.80 L493.90,684.50 L486.20,692.20 L478.50,684.50Z" fill="#008000"/>
<text transform="translate(526.4,645.4) scale(1.0,1.1)" text-anchor="start" font-size="28.5" fill="#000">HeLa</text>
<text transform="translate(526.4,693.7) scale(1.0,1.1)" text-anchor="start" font-size="28.5" fill="#000">Neurons</text>
<g stroke="#000" stroke-width="3" fill="none">
<line x1="809.6" y1="626.695" x2="809.6" y2="971.2"/>
<line x1="808.1" y1="969.7" x2="1323.2" y2="969.7"/>
<line x1="795.2" y1="969.70" x2="809.6" y2="969.70"/>
<line x1="802" y1="912.78" x2="809.6" y2="912.78"/>
<line x1="795.2" y1="855.87" x2="809.6" y2="855.87"/>
<line x1="802" y1="798.95" x2="809.6" y2="798.95"/>
<line x1="795.2" y1="742.03" x2="809.6" y2="742.03"/>
<line x1="802" y1="685.11" x2="809.6" y2="685.11"/>
<line x1="795.2" y1="628.20" x2="809.6" y2="628.20"/>
<line x1="809.50" y1="969.7" x2="809.50" y2="984.2"/>
<line x1="873.45" y1="969.7" x2="873.45" y2="984.2"/>
<line x1="937.40" y1="969.7" x2="937.40" y2="984.2"/>
<line x1="1001.35" y1="969.7" x2="1001.35" y2="984.2"/>
<line x1="1065.30" y1="969.7" x2="1065.30" y2="984.2"/>
<line x1="1129.25" y1="969.7" x2="1129.25" y2="984.2"/>
<line x1="1193.20" y1="969.7" x2="1193.20" y2="984.2"/>
<line x1="1257.15" y1="969.7" x2="1257.15" y2="984.2"/>
<line x1="1321.10" y1="969.7" x2="1321.10" y2="984.2"/>
</g>
<text x="791.0" y="978.40" text-anchor="end" font-size="26.4" font-weight="bold" fill="#000">1.0</text>
<text x="791.0" y="864.57" text-anchor="end" font-size="26.4" font-weight="bold" fill="#000">1.5</text>
<text x="791.0" y="750.73" text-anchor="end" font-size="26.4" font-weight="bold" fill="#000">2.0</text>
<text x="791.0" y="636.90" text-anchor="end" font-size="26.4" font-weight="bold" fill="#000">2.5</text>
<text x="809.50" y="1012.0" text-anchor="middle" font-size="26.4" font-weight="bold" fill="#000">0</text>
<text x="873.45" y="1012.0" text-anchor="middle" font-size="26.4" font-weight="bold" fill="#000">10</text>
<text x="937.40" y="1012.0" text-anchor="middle" font-size="26.4" font-weight="bold" fill="#000">20</text>
<text x="1001.35" y="1012.0" text-anchor="middle" font-size="26.4" font-weight="bold" fill="#000">30</text>
<text x="1065.30" y="1012.0" text-anchor="middle" font-size="26.4" font-weight="bold" fill="#000">40</text>
<text x="1129.25" y="1012.0" text-anchor="middle" font-size="26.4" font-weight="bold" fill="#000">50</text>
<text x="1193.20" y="1012.0" text-anchor="middle" font-size="26.4" font-weight="bold" fill="#000">60</text>
<text x="1257.15" y="1012.0" text-anchor="middle" font-size="26.4" font-weight="bold" fill="#000">70</text>
<text x="1321.10" y="1012.0" text-anchor="middle" font-size="26.4" font-weight="bold" fill="#000">80</text>
<text x="1071.8" y="605.7" text-anchor="middle" font-size="40.8" fill="#000">Darkness</text>
<text transform="translate(1067.5,1052.5) scale(1.0,1.01)" text-anchor="middle" font-size="30.6" fill="#000">Time (min)</text>
<text transform="translate(700.0,814.0) rotate(-90) scale(1.0,1.03)" text-anchor="middle" font-size="30.6" fill="#000">Relative nuclear</text>
<text transform="translate(737.0,815.2) rotate(-90) scale(1.0,1.03)" text-anchor="middle" font-size="30.6" fill="#000">fluorescence</text>
<g stroke="#008000" stroke-width="2.0">
<line x1="937.40" y1="875.8" x2="937.40" y2="892.6"/>
<line x1="931.10" y1="875.8" x2="943.70" y2="875.8"/>
<line x1="931.10" y1="892.6" x2="943.70" y2="892.6"/>
<line x1="969.38" y1="858.7" x2="969.38" y2="878.9"/>
<line x1="963.08" y1="858.7" x2="975.67" y2="858.7"/>
<line x1="963.08" y1="878.9" x2="975.67" y2="878.9"/>
<line x1="1001.35" y1="841.3" x2="1001.35" y2="865.3"/>
<line x1="995.05" y1="841.3" x2="1007.65" y2="841.3"/>
<line x1="995.05" y1="865.3" x2="1007.65" y2="865.3"/>
<line x1="1033.33" y1="827.9" x2="1033.33" y2="853.7"/>
<line x1="1027.03" y1="827.9" x2="1039.62" y2="827.9"/>
<line x1="1027.03" y1="853.7" x2="1039.62" y2="853.7"/>
<line x1="1065.30" y1="812.9" x2="1065.30" y2="841.0"/>
<line x1="1059.00" y1="812.9" x2="1071.60" y2="812.9"/>
<line x1="1059.00" y1="841.0" x2="1071.60" y2="841.0"/>
<line x1="1097.28" y1="804.2" x2="1097.28" y2="835.8"/>
<line x1="1090.98" y1="804.2" x2="1103.58" y2="804.2"/>
<line x1="1090.98" y1="835.8" x2="1103.58" y2="835.8"/>
<line x1="1129.25" y1="795.8" x2="1129.25" y2="829.2"/>
<line x1="1122.95" y1="795.8" x2="1135.55" y2="795.8"/>
<line x1="1122.95" y1="829.2" x2="1135.55" y2="829.2"/>
<line x1="1161.22" y1="789.0" x2="1161.22" y2="823.2"/>
<line x1="1154.92" y1="789.0" x2="1167.52" y2="789.0"/>
<line x1="1154.92" y1="823.2" x2="1167.52" y2="823.2"/>
<line x1="1193.20" y1="783.7" x2="1193.20" y2="819.2"/>
<line x1="1186.90" y1="783.7" x2="1199.50" y2="783.7"/>
<line x1="1186.90" y1="819.2" x2="1199.50" y2="819.2"/>
<line x1="1225.17" y1="779.2" x2="1225.17" y2="815.3"/>
<line x1="1218.88" y1="779.2" x2="1231.47" y2="779.2"/>
<line x1="1218.88" y1="815.3" x2="1231.47" y2="815.3"/>
<line x1="1257.15" y1="771.3" x2="1257.15" y2="808.2"/>
<line x1="1250.85" y1="771.3" x2="1263.45" y2="771.3"/>
<line x1="1250.85" y1="808.2" x2="1263.45" y2="808.2"/>
<line x1="1289.12" y1="764.7" x2="1289.12" y2="804.7"/>
<line x1="1282.83" y1="764.7" x2="1295.42" y2="764.7"/>
<line x1="1282.83" y1="804.7" x2="1295.42" y2="804.7"/>
<line x1="1321.10" y1="756.3" x2="1321.10" y2="796.3"/>
<line x1="1314.80" y1="756.3" x2="1327.40" y2="756.3"/>
<line x1="1314.80" y1="796.3" x2="1327.40" y2="796.3"/>
</g>
<path d="M809.50,962.10 L817.10,969.70 L809.50,977.30 L801.90,969.70Z" fill="#008000"/>
<path d="M841.48,936.40 L849.08,944.00 L841.48,951.60 L833.88,944.00Z" fill="#008000"/>
<path d="M873.45,914.20 L881.05,921.80 L873.45,929.40 L865.85,921.80Z" fill="#008000"/>
<path d="M905.42,895.00 L913.02,902.60 L905.42,910.20 L897.82,902.60Z" fill="#008000"/>
<path d="M937.40,876.60 L945.00,884.20 L937.40,891.80 L929.80,884.20Z" fill="#008000"/>
<path d="M969.38,860.80 L976.98,868.40 L969.38,876.00 L961.77,868.40Z" fill="#008000"/>
<path d="M1001.35,845.40 L1008.95,853.00 L1001.35,860.60 L993.75,853.00Z" fill="#008000"/>
<path d="M1033.33,832.90 L1040.92,840.50 L1033.33,848.10 L1025.73,840.50Z" fill="#008000"/>
<path d="M1065.30,819.50 L1072.90,827.10 L1065.30,834.70 L1057.70,827.10Z" fill="#008000"/>
<path d="M1097.28,812.40 L1104.88,820.00 L1097.28,827.60 L1089.68,820.00Z" fill="#008000"/>
<path d="M1129.25,805.00 L1136.85,812.60 L1129.25,820.20 L1121.65,812.60Z" fill="#008000"/>
<path d="M1161.22,797.90 L1168.82,805.50 L1161.22,813.10 L1153.62,805.50Z" fill="#008000"/>
<path d="M1193.20,794.00 L1200.80,801.60 L1193.20,809.20 L1185.60,801.60Z" fill="#008000"/>
<path d="M1225.17,789.20 L1232.77,796.80 L1225.17,804.40 L1217.58,796.80Z" fill="#008000"/>
<path d="M1257.15,781.40 L1264.75,789.00 L1257.15,796.60 L1249.55,789.00Z" fill="#008000"/>
<path d="M1289.12,776.90 L1296.72,784.50 L1289.12,792.10 L1281.53,784.50Z" fill="#008000"/>
<path d="M1321.10,768.40 L1328.70,776.00 L1321.10,783.60 L1313.50,776.00Z" fill="#008000"/>
<polyline points="809.50,969.70 813.76,966.12 818.03,962.60 822.29,959.14 826.55,955.74 830.82,952.39 835.08,949.09 839.34,945.84 843.61,942.65 847.87,939.51 852.13,936.42 856.40,933.38 860.66,930.39 864.92,927.45 869.19,924.55 873.45,921.71 877.71,918.90 881.98,916.15 886.24,913.43 890.50,910.76 894.77,908.14 899.03,905.55 903.29,903.01 907.56,900.51 911.82,898.05 916.08,895.63 920.35,893.25 924.61,890.90 928.87,888.60 933.14,886.33 937.40,884.10 941.66,881.90 945.93,879.74 950.19,877.62 954.45,875.53 958.72,873.47 962.98,871.44 967.24,869.45 971.51,867.49 975.77,865.56 980.03,863.67 984.30,861.80 988.56,859.96 992.82,858.16 997.09,856.38 1001.35,854.63 1005.61,852.91 1009.88,851.22 1014.14,849.55 1018.40,847.91 1022.67,846.30 1026.93,844.72 1031.19,843.15 1035.46,841.62 1039.72,840.11 1043.98,838.62 1048.25,837.16 1052.51,835.72 1056.77,834.30 1061.04,832.91 1065.30,831.54 1069.56,830.19 1073.83,828.87 1078.09,827.56 1082.35,826.28 1086.62,825.01 1090.88,823.77 1095.14,822.55 1099.41,821.35 1103.67,820.16 1107.93,819.00 1112.20,817.85 1116.46,816.72 1120.72,815.61 1124.99,814.52 1129.25,813.45 1133.51,812.39 1137.78,811.35 1142.04,810.33 1146.30,809.33 1150.57,808.34 1154.83,807.36 1159.09,806.40 1163.36,805.46 1167.62,804.53 1171.88,803.62 1176.15,802.72 1180.41,801.84 1184.67,800.97 1188.94,800.11 1193.20,799.27 1197.46,798.45 1201.73,797.63 1205.99,796.83 1210.25,796.04 1214.52,795.27 1218.78,794.50 1223.04,793.75 1227.31,793.01 1231.57,792.29 1235.83,791.57 1240.10,790.87 1244.36,790.18 1248.62,789.49 1252.89,788.82 1257.15,788.16 1261.41,787.52 1265.68,786.88 1269.94,786.25 1274.20,785.63 1278.47,785.02 1282.73,784.43 1286.99,783.84 1291.26,783.26 1295.52,782.69 1299.78,782.13 1304.05,781.58 1308.31,781.04 1312.57,780.50 1316.84,779.98 1321.10,779.46" fill="none" stroke="#008000" stroke-width="2.0"/>
<g stroke="#0000FF" stroke-width="2.0">
<line x1="873.45" y1="863.7" x2="873.45" y2="876.3"/>
<line x1="867.15" y1="863.7" x2="879.75" y2="863.7"/>
<line x1="867.15" y1="876.3" x2="879.75" y2="876.3"/>
<line x1="905.42" y1="802.6" x2="905.42" y2="828.4"/>
<line x1="899.12" y1="802.6" x2="911.72" y2="802.6"/>
<line x1="899.12" y1="828.4" x2="911.72" y2="828.4"/>
<line x1="937.40" y1="765.8" x2="937.40" y2="796.8"/>
<line x1="931.10" y1="765.8" x2="943.70" y2="765.8"/>
<line x1="931.10" y1="796.8" x2="943.70" y2="796.8"/>
<line x1="969.38" y1="740.8" x2="969.38" y2="775.5"/>
<line x1="963.08" y1="740.8" x2="975.67" y2="740.8"/>
<line x1="963.08" y1="775.5" x2="975.67" y2="775.5"/>
<line x1="1001.35" y1="721.1" x2="1001.35" y2="759.7"/>
<line x1="995.05" y1="721.1" x2="1007.65" y2="721.1"/>
<line x1="995.05" y1="759.7" x2="1007.65" y2="759.7"/>
<line x1="1033.33" y1="703.4" x2="1033.33" y2="743.7"/>
<line x1="1027.03" y1="703.4" x2="1039.62" y2="703.4"/>
<line x1="1027.03" y1="743.7" x2="1039.62" y2="743.7"/>
<line x1="1065.30" y1="689.0" x2="1065.30" y2="731.8"/>
<line x1="1059.00" y1="689.0" x2="1071.60" y2="689.0"/>
<line x1="1059.00" y1="731.8" x2="1071.60" y2="731.8"/>
<line x1="1097.28" y1="679.7" x2="1097.28" y2="724.0"/>
<line x1="1090.98" y1="679.7" x2="1103.58" y2="679.7"/>
<line x1="1090.98" y1="724.0" x2="1103.58" y2="724.0"/>
<line x1="1129.25" y1="669.2" x2="1129.25" y2="714.7"/>
<line x1="1122.95" y1="669.2" x2="1135.55" y2="669.2"/>
<line x1="1122.95" y1="714.7" x2="1135.55" y2="714.7"/>
<line x1="1161.22" y1="668.7" x2="1161.22" y2="714.0"/>
<line x1="1154.92" y1="668.7" x2="1167.52" y2="668.7"/>
<line x1="1154.92" y1="714.0" x2="1167.52" y2="714.0"/>
<line x1="1193.20" y1="660.8" x2="1193.20" y2="707.4"/>
<line x1="1186.90" y1="660.8" x2="1199.50" y2="660.8"/>
<line x1="1186.90" y1="707.4" x2="1199.50" y2="707.4"/>
<line x1="1225.17" y1="655.5" x2="1225.17" y2="704.7"/>
<line x1="1218.88" y1="655.5" x2="1231.47" y2="655.5"/>
<line x1="1218.88" y1="704.7" x2="1231.47" y2="704.7"/>
<line x1="1257.15" y1="647.6" x2="1257.15" y2="697.6"/>
<line x1="1250.85" y1="647.6" x2="1263.45" y2="647.6"/>
<line x1="1250.85" y1="697.6" x2="1263.45" y2="697.6"/>
<line x1="1289.12" y1="646.8" x2="1289.12" y2="697.1"/>
<line x1="1282.83" y1="646.8" x2="1295.42" y2="646.8"/>
<line x1="1282.83" y1="697.1" x2="1295.42" y2="697.1"/>
<line x1="1321.10" y1="643.2" x2="1321.10" y2="695.0"/>
<line x1="1314.80" y1="643.2" x2="1327.40" y2="643.2"/>
<line x1="1314.80" y1="695.0" x2="1327.40" y2="695.0"/>
</g>
<circle cx="809.50" cy="969.5" r="7.4" fill="#0000FF"/>
<circle cx="841.48" cy="909.7" r="7.4" fill="#0000FF"/>
<circle cx="873.45" cy="870.5" r="7.4" fill="#0000FF"/>
<circle cx="905.42" cy="815.8" r="7.4" fill="#0000FF"/>
<circle cx="937.40" cy="781.6" r="7.4" fill="#0000FF"/>
<circle cx="969.38" cy="757.9" r="7.4" fill="#0000FF"/>
<circle cx="1001.35" cy="740.6" r="7.4" fill="#0000FF"/>
<circle cx="1033.33" cy="723.4" r="7.4" fill="#0000FF"/>
<circle cx="1065.30" cy="710.0" r="7.4" fill="#0000FF"/>
<circle cx="1097.28" cy="702.1" r="7.4" fill="#0000FF"/>
<circle cx="1129.25" cy="691.8" r="7.4" fill="#0000FF"/>
<circle cx="1161.22" cy="691.0" r="7.4" fill="#0000FF"/>
<circle cx="1193.20" cy="683.7" r="7.4" fill="#0000FF"/>
<circle cx="1225.17" cy="680.0" r="7.4" fill="#0000FF"/>
<circle cx="1257.15" cy="672.6" r="7.4" fill="#0000FF"/>
<circle cx="1289.12" cy="671.8" r="7.4" fill="#0000FF"/>
<circle cx="1321.10" cy="668.7" r="7.4" fill="#0000FF"/>
<polyline points="809.50,969.70 813.76,960.45 818.03,951.48 822.29,942.78 826.55,934.34 830.82,926.16 835.08,918.22 839.34,910.52 843.61,903.05 847.87,895.81 852.13,888.78 856.40,881.97 860.66,875.36 864.92,868.94 869.19,862.73 873.45,856.69 877.71,850.84 881.98,845.17 886.24,839.67 890.50,834.33 894.77,829.15 899.03,824.13 903.29,819.26 907.56,814.54 911.82,809.95 916.08,805.51 920.35,801.20 924.61,797.02 928.87,792.96 933.14,789.03 937.40,785.21 941.66,781.51 945.93,777.92 950.19,774.44 954.45,771.07 958.72,767.79 962.98,764.62 967.24,761.53 971.51,758.55 975.77,755.65 980.03,752.84 984.30,750.11 988.56,747.47 992.82,744.90 997.09,742.41 1001.35,740.00 1005.61,737.66 1009.88,735.39 1014.14,733.19 1018.40,731.05 1022.67,728.98 1026.93,726.97 1031.19,725.02 1035.46,723.13 1039.72,721.30 1043.98,719.52 1048.25,717.79 1052.51,716.12 1056.77,714.50 1061.04,712.92 1065.30,711.40 1069.56,709.92 1073.83,708.48 1078.09,707.09 1082.35,705.74 1086.62,704.43 1090.88,703.16 1095.14,701.92 1099.41,700.73 1103.67,699.57 1107.93,698.44 1112.20,697.35 1116.46,696.29 1120.72,695.27 1124.99,694.27 1129.25,693.31 1133.51,692.37 1137.78,691.46 1142.04,690.58 1146.30,689.73 1150.57,688.90 1154.83,688.09 1159.09,687.31 1163.36,686.56 1167.62,685.82 1171.88,685.11 1176.15,684.42 1180.41,683.75 1184.67,683.10 1188.94,682.47 1193.20,681.86 1197.46,681.27 1201.73,680.70 1205.99,680.14 1210.25,679.60 1214.52,679.07 1218.78,678.57 1223.04,678.07 1227.31,677.59 1231.57,677.13 1235.83,676.68 1240.10,676.24 1244.36,675.82 1248.62,675.41 1252.89,675.01 1257.15,674.62 1261.41,674.25 1265.68,673.89 1269.94,673.53 1274.20,673.19 1278.47,672.86 1282.73,672.54 1286.99,672.23 1291.26,671.92 1295.52,671.63 1299.78,671.35 1304.05,671.07 1308.31,670.80 1312.57,670.54 1316.84,670.29 1321.10,670.05" fill="none" stroke="#0000A0" stroke-width="2.0"/>
<line x1="828.4" y1="636.3" x2="866.2" y2="636.3" stroke="#0000FF" stroke-width="2.0"/>
<circle cx="847.2" cy="636.3" r="7.5" fill="#0000FF"/>
<line x1="828.4" y1="684.5" x2="866.2" y2="684.5" stroke="#008000" stroke-width="2.0"/>
<path d="M847.20,676.80 L854.90,684.50 L847.20,692.20 L839.50,684.50Z" fill="#008000"/>
<text transform="translate(887.4,645.4) scale(1.0,1.1)" text-anchor="start" font-size="28.5" fill="#000">HeLa</text>
<text transform="translate(887.4,693.7) scale(1.0,1.1)" text-anchor="start" font-size="28.5" fill="#000">Neurons</text>
</svg>
</body></html>
